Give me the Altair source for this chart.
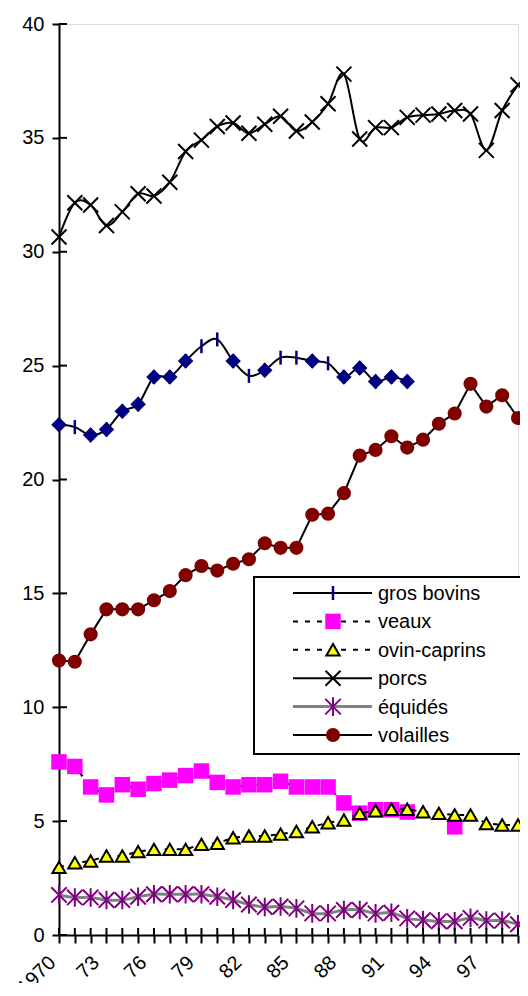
import altair as alt
import pandas as pd

years = list(range(1970, 2000))

gros_bovins = [22.4, 22.3, 21.95, 22.2, 23.0, 23.3, 24.5, 24.5, 25.2, 25.85,
               26.15, 25.2, 24.55, 24.8, 25.35, 25.35, 25.2, 25.1, 24.5, 24.9,
               24.3, 24.5, 24.3, None, None, None, None, None, None, None]
diamond_years = [1970, 1972, 1973, 1974, 1975, 1976, 1977, 1978, 1981, 1983,
                 1986, 1988, 1989, 1990, 1991, 1992]
veaux = [7.6, 7.4, 6.5, 6.15, 6.6, 6.4, 6.65, 6.8, 7.0, 7.2,
         6.7, 6.5, 6.6, 6.6, 6.75, 6.5, 6.5, 6.5, 5.8, 5.35,
         5.5, 5.5, 5.4, None, None, 4.75, None, None, None, None]
ovin_caprins = [2.97, 3.17, 3.25, 3.47, 3.47, 3.66, 3.76, 3.76, 3.76, 3.98,
                4.03, 4.27, 4.35, 4.35, 4.43, 4.54, 4.75, 4.93, 5.05, 5.34,
                5.46, 5.52, 5.52, 5.41, 5.34, 5.27, 5.27, 4.9, 4.83, 4.83]
porcs = [30.65, 32.15, 32.05, 31.15, 31.75, 32.55, 32.45, 33.05, 34.4, 34.9,
         35.5, 35.65, 35.2, 35.6, 35.95, 35.3, 35.7, 36.5, 37.8, 34.95,
         35.45, 35.45, 35.9, 36.0, 36.05, 36.2, 36.05, 34.45, 36.2, 37.33]
equides = [1.76, 1.65, 1.65, 1.54, 1.54, 1.68, 1.79, 1.79, 1.79, 1.79,
           1.68, 1.54, 1.34, 1.23, 1.25, 1.17, 0.95, 0.95, 1.1, 1.1,
           0.95, 0.98, 0.73, 0.66, 0.6, 0.6, 0.75, 0.63, 0.63, 0.47]
volailles = [12.05, 12.0, 13.2, 14.3, 14.3, 14.3, 14.7, 15.1, 15.8, 16.2,
             16.0, 16.3, 16.5, 17.2, 17.0, 17.0, 18.45, 18.5, 19.4, 21.05,
             21.3, 21.9, 21.4, 21.75, 22.45, 22.9, 24.2, 23.2, 23.7, 22.7]

series_names = ["gros bovins", "veaux", "ovin-caprins", "porcs", "équidés", "volailles"]
series_values = [gros_bovins, veaux, ovin_caprins, porcs, equides, volailles]
y_ticks = [0, 5, 10, 15, 20, 25, 30, 35, 40]

FONT = "Liberation Sans"
W, H = 459, 911

X_PATH = "M-1,-1L1,1M-1,1L1,-1"
AST_PATH = "M-1,-1L1,1M-1,1L1,-1M0,-1.2L0,1.2"
TICK_PATH = "M0,-1L0,1"

styles = {
    "gros bovins": dict(line=dict(color="black", strokeWidth=2, interpolate="cardinal"),
                        point=dict(shape=TICK_PATH, filled=False, stroke="#000080", strokeWidth=2.5, size=196)),
    "veaux": dict(line=dict(color="black", strokeWidth=2, strokeDash=[5, 7]),
                  point=dict(shape="square", filled=True, fill="#FF00FF", strokeWidth=0, size=240)),
    "ovin-caprins": dict(line=dict(color="black", strokeWidth=2, strokeDash=[5, 7]),
                         point=dict(shape="triangle-up", filled=True, fill="#FFFF00", stroke="black",
                                    strokeWidth=2, size=175)),
    "porcs": dict(line=dict(color="black", strokeWidth=2, interpolate="cardinal"),
                  point=dict(shape=X_PATH, filled=False, stroke="black", strokeWidth=2, size=225)),
    "équidés": dict(line=dict(color="#808080", strokeWidth=3, interpolate="cardinal"),
                    point=dict(shape=AST_PATH, filled=False, stroke="#800080", strokeWidth=2, size=240)),
    "volailles": dict(line=dict(color="black", strokeWidth=2),
                      point=dict(shape="circle", filled=True, fill="#800000", strokeWidth=0, size=200)),
}

# long table, with path segments broken at missing values
rows = []
for name, vals in zip(series_names, series_values):
    seg = 0
    prev_none = False
    for yr, v in zip(years, vals):
        if v is None:
            prev_none = True
            continue
        if prev_none:
            seg += 1
            prev_none = False
        rows.append({"series": name, "year": yr, "value": v, "seg": seg})
df = pd.DataFrame(rows)

x_enc = alt.X("year:Q",
              scale=alt.Scale(domain=[1970, 1999], nice=False, zero=False),
              axis=alt.Axis(values=years, title="",
                            labelExpr="(datum.value - 1970) % 3 == 0 ? (datum.value == 1970 ? '1970' : substring(toString(datum.value), 2, 4)) : ''",
                            labelAngle=-45, labelAlign="right", labelBaseline="top",
                            labelFont=FONT, labelFontSize=20, labelColor="black",
                            labelOffset={"condition": {"test": "datum.value == 1970", "value": -14},
                                         "value": -18},
                            labelPadding=9, labelOverlap=False, labelFlush=False,
                            tickSize=8, tickWidth=2, tickColor="black",
                            domainColor="black", domainWidth=2, grid=False))
y_enc = alt.Y("value:Q",
              scale=alt.Scale(domain=[0, 40], nice=False, zero=True),
              axis=alt.Axis(values=y_ticks, title="",
                            labelFont=FONT, labelFontSize=20, labelColor="black",
                            labelPadding=8, tickSize=7, tickWidth=2, tickColor="black",
                            domainColor="black", domainWidth=2, grid=False))

layers = []
for name in series_names:
    st = styles[name]
    sub = alt.Chart(df).transform_filter(alt.datum.series == name)
    layers.append(sub.mark_line(**st["line"]).encode(x=x_enc, y=y_enc, detail="seg:N"))
    layers.append(sub.mark_point(opacity=1, **st["point"]).encode(x=x_enc, y=y_enc))
    if name == "gros bovins":
        dia = sub.transform_filter(alt.FieldOneOfPredicate(field="year", oneOf=diamond_years))
        layers.append(dia.mark_point(shape="diamond", filled=True, fill="#000080", strokeWidth=0,
                                     size=240, opacity=1).encode(x=x_enc, y=y_enc))

# inward halves of the crossing tick marks
yt = pd.DataFrame({"value": y_ticks})
layers.append(alt.Chart(yt).mark_rule(color="black", strokeWidth=2).encode(
    y=y_enc, x=alt.value(0), x2=alt.value(8)))
xt = pd.DataFrame({"year": years})
layers.append(alt.Chart(xt).mark_rule(color="black", strokeWidth=2).encode(
    x=x_enc, y=alt.value(H), y2=alt.value(H - 7)))

# legend (drawn by hand to reproduce line+marker symbols)
LX0, LX1, LY0, LY1 = 195, 463, 553, 730
layers.append(alt.Chart(pd.DataFrame({"k": [0]})).mark_rect(
    fill="white", stroke="black", strokeWidth=2).encode(
    x=alt.value(LX0), x2=alt.value(LX1), y=alt.value(LY0), y2=alt.value(LY1)))
for i, name in enumerate(series_names):
    st = styles[name]
    ly = 569 + i * 28.4
    one = alt.Chart(pd.DataFrame({"name": [name]}))
    lst = {k: v for k, v in st["line"].items() if k != "interpolate"}
    layers.append(one.mark_rule(**lst).encode(
        x=alt.value(234), x2=alt.value(313), y=alt.value(ly)))
    layers.append(one.mark_point(opacity=1, **st["point"]).encode(
        x=alt.value(274), y=alt.value(ly)))
    layers.append(one.mark_text(align="left", baseline="middle", font=FONT, fontSize=20,
                                color="black").encode(
        x=alt.value(319), y=alt.value(ly + 1), text="name:N"))

chart = alt.layer(*layers).properties(
    width=W, height=H,
    autosize=alt.AutoSizeParams(type="none"),
    padding={"left": 51, "top": 16, "right": 2, "bottom": 48},
).configure_view(strokeWidth=0).configure(font=FONT)

chart.save("out.html", embed_options={"renderer": "svg", "actions": False})
